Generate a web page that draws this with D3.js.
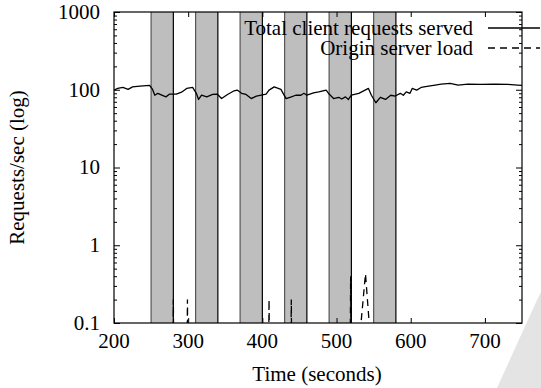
<!DOCTYPE html>
<html>
<head>
<meta charset="utf-8">
<script src="https://cdn.jsdelivr.net/npm/d3@7"></script>
<style>
  body { margin: 0; background: #fff; }
  svg { display: block; }
</style>
</head>
<body>
<svg></svg>
<script>
// total client requests served (req/s)
var time = [200, 205, 212, 219, 225, 235, 248, 252, 255, 259, 270, 275, 284, 291, 298, 306, 311, 314, 318, 325,
  333, 339, 345, 353, 362, 366, 372, 378, 385, 392, 405, 409, 416, 425, 432, 439, 445, 452, 456, 460,
  469, 476, 486, 490, 496, 503, 507, 512, 516, 520, 530, 543, 547, 553, 559, 566, 573, 579, 586, 590,
  594, 599, 602, 608, 614, 624, 633, 641, 653, 664, 677, 695, 713, 731, 744, 750];
var requests = [99, 104, 107, 101, 109, 111, 114, 101, 85, 90, 81, 88, 88, 93, 104, 107, 90, 75, 85, 81,
  87, 88, 77, 87, 97, 99, 90, 87, 77, 83, 88, 99, 109, 101, 77, 81, 85, 85, 90, 85,
  91, 94, 99, 88, 77, 80, 76, 81, 75, 85, 90, 104, 85, 68, 80, 75, 85, 83, 90, 85,
  94, 90, 104, 99, 107, 111, 115, 118, 121, 115, 118, 117, 118, 117, 115, 114];

// origin server load (req/s), 0 = below the axis
var originTime = [279, 280, 281, 298, 299, 300, 408, 409, 410, 438, 439, 440, 518, 519, 520, 533, 533, 539, 544, 544];
var originLoad = [0, 0.2, 0, 0, 0.2, 0, 0, 0.2, 0, 0, 0.2, 0, 0, 0.4, 0, 0, 0.1, 0.43, 0.1, 0];

// shaded periods
var shadeStart = [250, 310, 370, 430, 490, 550];
var shadeEnd = [280, 340, 400, 460, 520, 580];

var xTicks = [200, 300, 400, 500, 600, 700];
var yTicks = [0.1, 1, 10, 100, 1000];
var yTickLabels = ["0.1", "1", "10", "100", "1000"];
var legendLabels = ["Total client requests served", "Origin server load"];

var FONT = "'Liberation Serif', 'Times New Roman', Times, 'DejaVu Serif', serif";

var svgWidth = 541, svgHeight = 388;
var margin = {top: 12, right: 19, bottom: 65, left: 114};
var width = svgWidth - margin.left - margin.right;
var height = svgHeight - margin.top - margin.bottom;

var svg = d3.select("svg").attr("width", svgWidth).attr("height", svgHeight);

function label(sel) {
  return sel.attr("font-family", FONT).style("font-family", FONT)
    .attr("font-size", 21).attr("fill", "#000");
}

// watermark fragment in the corner
svg.append("path")
  .attr("d", "M497,388 L537,300 L541,292 L541,388 Z")
  .attr("fill", "#e4e4e4");

var g = svg.append("g").attr("transform", "translate(" + margin.left + "," + margin.top + ")");

var x = d3.scaleLinear().domain([200, 750]).range([0, width]);
var y = d3.scaleLog().domain([0.1, 1000]).range([height, 0]);

g.append("clipPath").attr("id", "clip")
  .append("rect").attr("width", width).attr("height", height);

// shaded boxes
var shades = g.append("g");
shadeStart.forEach(function (s, i) {
  shades.append("rect")
    .attr("x", x(s)).attr("y", 0)
    .attr("width", x(shadeEnd[i]) - x(s)).attr("height", height)
    .attr("fill", "#bebebe");
  shades.append("line")
    .attr("x1", x(s)).attr("x2", x(s)).attr("y1", 0).attr("y2", height)
    .attr("stroke", "#555").attr("stroke-width", 1.2);
  shades.append("line")
    .attr("x1", x(shadeEnd[i])).attr("x2", x(shadeEnd[i])).attr("y1", 0).attr("y2", height)
    .attr("stroke", "#000").attr("stroke-width", 1.2);
});

// minor + major ticks on the log axis
var yMinor = [];
yTicks.slice(0, -1).forEach(function (d) {
  for (var k = 2; k <= 9; k++) yMinor.push(d * k);
});

function ticksY(axisFn, size, values) {
  return axisFn(y).tickValues(values).tickSizeInner(size).tickSizeOuter(0).tickFormat("");
}
g.append("g").call(ticksY(d3.axisLeft, -6, yTicks));
g.append("g").call(ticksY(d3.axisLeft, -3, yMinor));
g.append("g").attr("transform", "translate(" + width + ",0)").call(ticksY(d3.axisRight, -6, yTicks));
g.append("g").attr("transform", "translate(" + width + ",0)").call(ticksY(d3.axisRight, -3, yMinor));

g.append("g").attr("transform", "translate(0," + height + ")")
  .call(d3.axisBottom(x).tickValues(xTicks).tickSizeInner(-5).tickSizeOuter(0).tickFormat(""));
g.append("g")
  .call(d3.axisTop(x).tickValues(xTicks).tickSizeInner(-5).tickSizeOuter(0).tickFormat(""));

g.selectAll(".domain").remove();
g.selectAll(".tick line").attr("stroke", "#000");

// tick labels
g.selectAll(".ylab").data(yTicks).enter().append("text")
  .attr("x", -14).attr("y", function (d) { return y(d); })
  .attr("dy", "0.33em").attr("text-anchor", "end")
  .call(label)
  .text(function (d, i) { return yTickLabels[i]; });

g.selectAll(".xlab").data(xTicks).enter().append("text")
  .attr("x", function (d) { return x(d); }).attr("y", height + 25)
  .attr("text-anchor", "middle")
  .call(label)
  .text(function (d) { return d; });

// series
var line = d3.line()
  .x(function (d) { return x(d[0]); })
  .y(function (d) { return y(Math.max(d[1], 0.01)); });

var plot = g.append("g").attr("clip-path", "url(#clip)");

plot.append("path")
  .datum(d3.zip(originTime, originLoad))
  .attr("fill", "none")
  .attr("stroke", "#000")
  .attr("stroke-width", 1.3)
  .attr("stroke-dasharray", "7,5")
  .attr("d", line);

plot.append("path")
  .datum(d3.zip(time, requests))
  .attr("fill", "none")
  .attr("stroke", "#000")
  .attr("stroke-width", 1.3)
  .attr("stroke-linejoin", "round")
  .attr("d", line);

// frame
g.append("rect")
  .attr("width", width).attr("height", height)
  .attr("fill", "none").attr("stroke", "#000").attr("stroke-width", 1.2);

// legend
legendLabels.forEach(function (lab, i) {
  var ly = 16 + i * 20;
  g.append("text")
    .attr("x", 359).attr("y", ly).attr("dy", "0.33em")
    .attr("text-anchor", "end")
    .call(label)
    .text(lab);
  g.append("line")
    .attr("x1", 374).attr("x2", 426).attr("y1", ly).attr("y2", ly)
    .attr("stroke", "#000").attr("stroke-width", 1.3)
    .attr("stroke-dasharray", i === 1 ? "7,5" : null);
});

// axis titles
svg.append("text")
  .attr("x", margin.left + width / 2 - 1).attr("y", 381)
  .attr("text-anchor", "middle")
  .call(label)
  .text("Time (seconds)");

svg.append("text")
  .attr("transform", "translate(24," + (margin.top + height / 2) + ") rotate(-90)")
  .attr("text-anchor", "middle")
  .call(label)
  .text("Requests/sec (log)");
</script>
</body>
</html>
